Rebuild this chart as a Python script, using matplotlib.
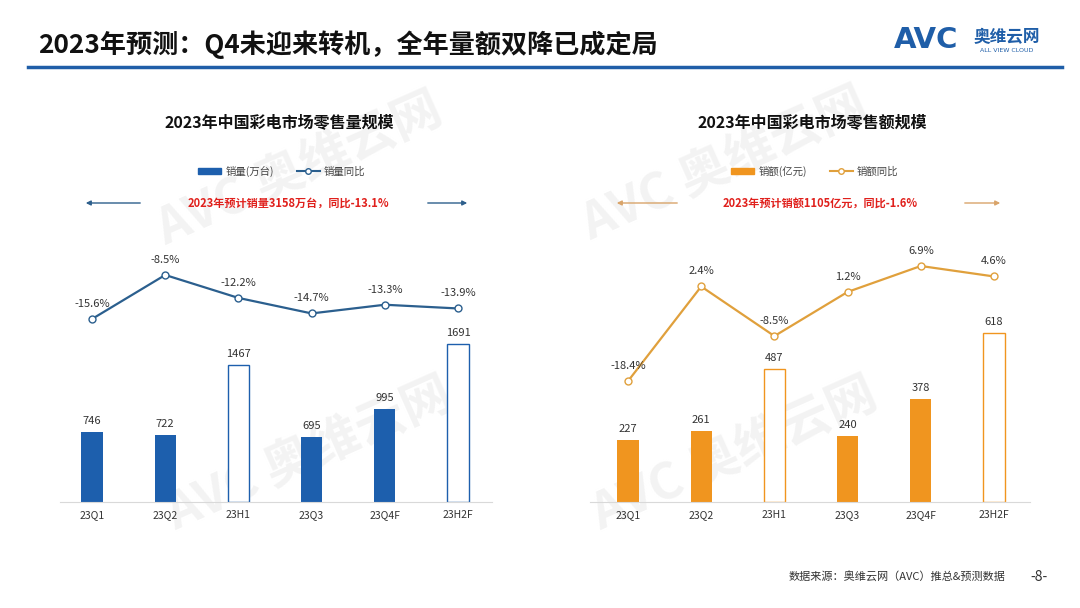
import matplotlib
matplotlib.use("Agg")
import matplotlib.pyplot as plt
from matplotlib.patches import FancyArrowPatch, Patch
from matplotlib.lines import Line2D

plt.rcParams['font.family'] = ['Noto Sans CJK SC', 'DejaVu Sans']

# ---------------- data ----------------
categories = ["23Q1", "23Q2", "23H1", "23Q3", "23Q4F", "23H2F"]
hollow = [False, False, True, False, False, True]
volume = [746, 722, 1467, 695, 995, 1691]            # 万台
volume_yoy = [-15.6, -8.5, -12.2, -14.7, -13.3, -13.9]
amount = [227, 261, 487, 240, 378, 618]              # 亿元
amount_yoy = [-18.4, 2.4, -8.5, 1.2, 6.9, 4.6]

W, H = 1080, 608
fig = plt.figure(figsize=(W / 100, H / 100), dpi=100)


def fx(x):
    return x / W


def fy(y):
    return 1 - y / H


def box(x0, y0, x1, y1):
    return [fx(x0), fy(y1), (x1 - x0) / W, (y1 - y0) / H]


def ftext(x, y, s, **kw):
    return fig.text(fx(x), fy(y), s, transform=fig.transFigure, **kw)


# watermarks (behind everything)
for (cx, cy) in [(300, 170), (310, 455), (725, 165), (735, 455)]:
    ftext(cx, cy, "AVC 奥维云网", fontsize=36, fontweight='bold', color='#f3f3f3',
          rotation=24, ha='center', va='center', zorder=-5)

# header
ftext(38, 45, "2023年预测：Q4未迎来转机，全年量额双降已成定局", fontsize=18.8,
      fontweight='bold', color='#111111', ha='left', va='center', zorder=5)
fig.add_artist(Line2D([fx(28), fx(1062)], [fy(67), fy(67)], transform=fig.transFigure,
                      color='#1f5ea8', lw=2.5))
ftext(926, 40, "AVC", fontsize=21, fontweight='bold', color='#1f5ea8',
      ha='center', va='center', family=['DejaVu Sans'], zorder=5)
ftext(1007, 37, "奥维云网", fontsize=12, fontweight='bold', color='#1f5ea8',
      ha='center', va='center', zorder=5)
ftext(1007, 51, "ALL VIEW CLOUD", fontsize=4.5, color='#1f5ea8', ha='center', va='center',
      family=['DejaVu Sans'], zorder=5)

# footer
ftext(1005, 577, "数据来源：奥维云网（AVC）推总&预测数据", fontsize=8, color='#333333',
      ha='right', va='center', zorder=5)
ftext(1039, 577, "-8-", fontsize=10, color='#333333', ha='center', va='center', zorder=5)


def panel(x0, x1, xfirst, vals, yoy, bar_color, line_color, arrow_color, bar_scale,
          yoy_ref, title, title_x, leg_labels, leg_x, note, note_x, arrows):
    y0, y1 = 240, 502
    ax = fig.add_axes(box(x0, y0, x1, y1), zorder=2)
    ax.set_facecolor('none')
    step = 73.2
    ax.set_xlim((x0 - xfirst) / step, (x1 - xfirst) / step)
    ax.set_ylim(0, (y1 - y0) / bar_scale)
    xs = list(range(len(categories)))
    for i, v in enumerate(vals):
        if hollow[i]:
            ax.bar(i, v, width=0.29, color='white', edgecolor=bar_color, linewidth=1.0, zorder=2)
        else:
            ax.bar(i, v, width=0.29, color=bar_color, edgecolor=bar_color, linewidth=0, zorder=2)
        ax.annotate(f"{v}", (i, v), xytext=(0, 11), textcoords='offset pixels',
                    ha='center', va='center', fontsize=8, color='#333333')
    ax.set_xticks(xs)
    ax.set_xticklabels(categories, fontsize=7.5, color='#333333')
    ax.tick_params(axis='x', length=0, pad=6)
    ax.set_yticks([])
    for s in ['top', 'left', 'right']:
        ax.spines[s].set_visible(False)
    ax.spines['bottom'].set_color('#d9d9d9')

    # line on twin axis
    ax2 = ax.twinx()
    ref_v, ref_px, px_per = yoy_ref
    top_v = ref_v + (ref_px - y0) / px_per
    bot_v = ref_v - (y1 - ref_px) / px_per
    ax2.set_ylim(bot_v, top_v)
    ax2.plot(xs, yoy, color=line_color, lw=1.6, marker='o', ms=5,
             markerfacecolor='white', markeredgecolor=line_color, markeredgewidth=1.0, zorder=3)
    for i, v in enumerate(yoy):
        ax2.annotate(f"{v:.1f}%", (i, v), xytext=(0, 15), textcoords='offset pixels',
                     ha='center', va='center', fontsize=8, color='#333333')
    ax2.set_yticks([])
    for s in ax2.spines.values():
        s.set_visible(False)

    # title
    ftext(title_x, 122, title, fontsize=11.5, fontweight='bold', color='#111111',
          ha='center', va='center', zorder=5)

    # legend
    handles = [Patch(facecolor=bar_color, edgecolor=bar_color),
               Line2D([0], [0], color=line_color, lw=1.5, marker='o', ms=4,
                      markerfacecolor='white', markeredgecolor=line_color)]
    ax.legend(handles, leg_labels, loc='center', bbox_to_anchor=(fx(leg_x), fy(171)),
              bbox_transform=fig.transFigure, ncol=2, frameon=False, fontsize=7.5,
              handlelength=2.2, handleheight=0.5, columnspacing=2.2, handletextpad=0.4,
              labelcolor='#444444')

    # note
    ftext(note_x, 203, note, fontsize=8, fontweight='bold', color='#e0201c',
          ha='center', va='center', zorder=5)
    for (s, e) in arrows:
        fig.add_artist(FancyArrowPatch((fx(s), fy(203)), (fx(e), fy(203)),
                                       transform=fig.transFigure, arrowstyle='-|>',
                                       mutation_scale=7, color=arrow_color, lw=1.0))
    return ax


panel(60, 492, 92, volume, volume_yoy, '#1d5fad', '#2b5f8e', '#2d5f8c', 0.0934,
      (-15.6, 319, 6.2), "2023年中国彩电市场零售量规模", 279,
      ["销量(万台)", "销量同比"], 282, "2023年预计销量3158万台，同比-13.1%", 288,
      [(143, 83), (425, 470)])

panel(590, 1030, 628, amount, amount_yoy, '#f0951f', '#e0a03c', '#d9a46a', 0.273,
      (6.9, 266, 4.55), "2023年中国彩电市场零售额规模", 812,
      ["销额(亿元)", "销额同比"], 815, "2023年预计销额1105亿元，同比-1.6%", 820,
      [(680, 614), (962, 1003)])

fig.savefig("out.png", dpi=100)
